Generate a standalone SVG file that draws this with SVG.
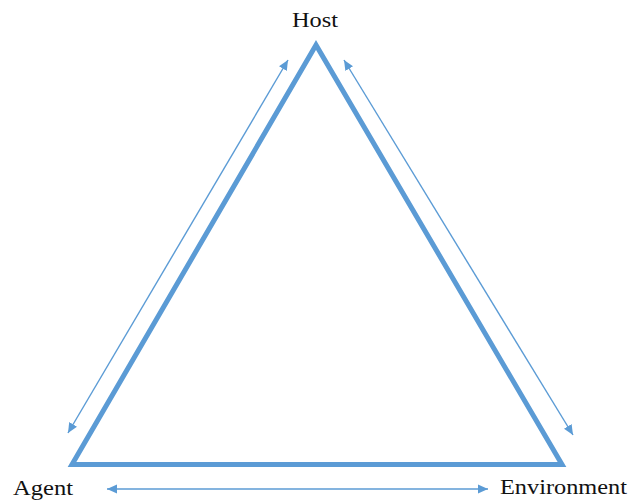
<svg xmlns="http://www.w3.org/2000/svg" width="631" height="502" viewBox="0 0 631 502">
  <style>
    .label { font-family: "Liberation Serif", "Times New Roman", serif; font-size: 22px; fill: #111; }
    .edge { fill: none; stroke: #5b9bd5; stroke-width: 5; stroke-linejoin: miter; }
    .link { fill: none; stroke: #5b9bd5; stroke-width: 1.4; }
  </style>
  <defs>
    <marker id="head" viewBox="0 0 10 10" refX="10" refY="5" markerWidth="10" markerHeight="10" markerUnits="userSpaceOnUse" orient="auto-start-reverse">
      <path d="M0,0.5 L10,5 L0,9.5 Z" fill="#5b9bd5"/>
    </marker>
  </defs>
  <rect width="631" height="502" fill="#ffffff"/>

  <!-- Triangle -->
  <g id="triangle">
    <polygon class="edge" points="316,45 72,464.5 562,464.5"/>
  </g>

  <!-- Node labels -->
  <g id="host"><text class="label" x="292" y="27" textLength="46" lengthAdjust="spacingAndGlyphs">Host</text></g>
  <g id="agent"><text class="label" x="13" y="495" textLength="60" lengthAdjust="spacingAndGlyphs">Agent</text></g>
  <g id="environment"><text class="label" x="500" y="494" textLength="127" lengthAdjust="spacingAndGlyphs">Environment</text></g>

  <!-- Two-way connectors -->
  <g id="connectors">
    <line class="link" x1="68" y1="433" x2="288" y2="60" marker-start="url(#head)" marker-end="url(#head)"/>
    <line class="link" x1="344" y1="60" x2="573" y2="435" marker-start="url(#head)" marker-end="url(#head)"/>
    <line class="link" x1="107" y1="489" x2="488" y2="489" marker-start="url(#head)" marker-end="url(#head)"/>
  </g>
</svg>
